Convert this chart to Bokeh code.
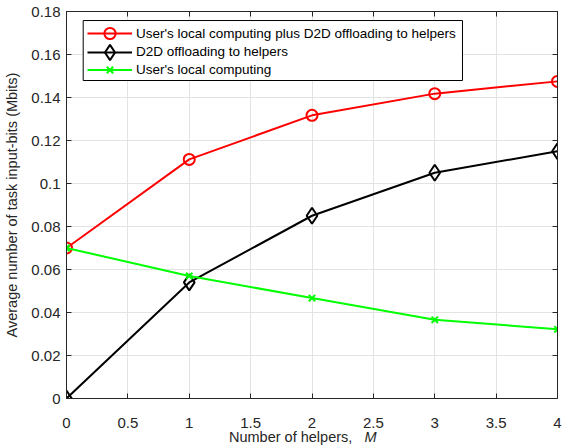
from bokeh.plotting import figure
from bokeh.layouts import column
from bokeh.models import (LinearAxis, FixedTicker, Legend, LegendItem, Range1d,
                          BoxAnnotation, Div)
from bokeh.embed import file_html
from bokeh.resources import INLINE

# Number of helpers M
helpers = [0, 1, 2, 3, 4]

# Average number of task input-bits (Mbits)
local_plus_d2d = [0.070, 0.1112, 0.1317, 0.1418, 0.1475]
d2d_only = [0.0, 0.054, 0.085, 0.105, 0.115]
local_only = [0.070, 0.057, 0.0467, 0.0366, 0.0322]

series_names = [
    "User's local computing plus D2D offloading to helpers",
    "D2D offloading to helpers",
    "User's local computing",
]

x_ticks = [0, 0.5, 1, 1.5, 2, 2.5, 3, 3.5, 4]
x_tick_labels = ["0", "0.5", "1", "1.5", "2", "2.5", "3", "3.5", "4"]
y_ticks = [0, 0.02, 0.04, 0.06, 0.08, 0.1, 0.12, 0.14, 0.16, 0.18]
y_tick_labels = ["0", "0.02", "0.04", "0.06", "0.08", "0.1", "0.12", "0.14", "0.16", "0.18"]

FONT = "Liberation Sans"
TEXT = "#262626"
RED, BLACK, GREEN = "#ff0000", "#000000", "#00ff00"

p = figure(
    frame_width=491, frame_height=387,
    min_border_left=66, min_border_right=5, min_border_top=11, min_border_bottom=36,
    x_range=Range1d(0, 4), y_range=Range1d(0, 0.18),
    output_backend="svg", toolbar_location=None,
)
p.outline_line_color = None
p.background_fill_color = "white"
p.border_fill_color = "white"


def style_axis(ax, ticks, labels, show_labels):
    ax.ticker = FixedTicker(ticks=ticks)
    if show_labels:
        ax.major_label_overrides = {t: l for t, l in zip(ticks, labels)}
        ax.major_label_text_font_size = "15px"
        ax.major_label_text_color = TEXT
    else:
        # box edges carry tick marks only
        ax.major_label_text_color = None
        ax.major_label_text_alpha = 0
    ax.major_tick_in = 5
    ax.major_tick_out = 0
    ax.minor_tick_line_color = None
    ax.axis_line_color = TEXT
    ax.axis_line_width = 1
    ax.major_tick_line_color = TEXT
    ax.major_label_text_font = FONT
    ax.major_label_standoff = 6


style_axis(p.xaxis[0], x_ticks, x_tick_labels, True)
style_axis(p.yaxis[0], y_ticks, y_tick_labels, True)
p.xaxis[0].major_label_standoff = 19

p.yaxis[0].axis_label = "Average number of task input-bits (Mbits)"
p.yaxis[0].axis_label_text_font = FONT
p.yaxis[0].axis_label_text_font_size = "14.5px"
p.yaxis[0].axis_label_text_font_style = "normal"
p.yaxis[0].axis_label_text_color = TEXT
p.yaxis[0].axis_label_standoff = 8

top_axis = LinearAxis(major_label_standoff=0)
right_axis = LinearAxis(major_label_standoff=0)
style_axis(top_axis, x_ticks, x_tick_labels, False)
style_axis(right_axis, y_ticks, y_tick_labels, False)
p.add_layout(top_axis, "above")
p.add_layout(right_axis, "right")

for g in (p.xgrid[0], p.ygrid[0]):
    g.grid_line_color = "#e3e3e3"
    g.grid_line_width = 1
p.xgrid[0].ticker = FixedTicker(ticks=x_ticks)
p.ygrid[0].ticker = FixedTicker(ticks=y_ticks)

# Series: line plus open markers
r1l = p.line(helpers, local_plus_d2d, line_color=RED, line_width=2)
r1m = p.scatter(helpers, local_plus_d2d, marker="circle", size=11,
                fill_color=None, line_color=RED, line_width=2)
r2l = p.line(helpers, d2d_only, line_color=BLACK, line_width=2)
r2m = p.scatter(helpers, d2d_only, marker="diamond", size=16,
                fill_color=None, line_color=BLACK, line_width=2)
r3l = p.line(helpers, local_only, line_color=GREEN, line_width=2)
r3m = p.scatter(helpers, local_only, marker="x", size=9,
                line_color=GREEN, line_width=2)

# Legend frame (white box with black border)
p.add_layout(BoxAnnotation(left=0.136, right=3.226, bottom=0.1479, top=0.1758,
                           fill_color="white", fill_alpha=1,
                           line_color="black", line_width=1, line_alpha=1))

# One legend row per series so each keeps its own marker size
rows = [
    (series_names[0], [r1l, r1m], 28, 33),
    (series_names[1], [r2l, r2m], 38, 51.5),
    (series_names[2], [r3l, r3m], 23, 69.5),
]
for name, rends, gh, cy in rows:
    lg = Legend(
        items=[LegendItem(label=name, renderers=rends)],
        location=(21, 398 - 11 - (cy - 11) - gh / 2),
        label_text_font=FONT,
        label_text_font_size="13.5px",
        label_text_color="black",
        label_height=gh,
        glyph_height=gh,
        glyph_width=45,
        label_standoff=4,
        padding=0,
        margin=0,
        spacing=0,
        border_line_color=None,
        background_fill_alpha=0,
    )
    p.add_layout(lg)

xlabel = Div(
    text='Number of helpers,&nbsp;&nbsp;&nbsp;<i>M</i>',
    width=562, height=12, margin=0,
    styles={"padding-left": "229px", "font-family": FONT, "font-size": "14.5px",
            "line-height": "12px", "color": TEXT, "white-space": "nowrap",
            "position": "relative", "top": "-3px"},
)

layout = column(p, xlabel, spacing=0)
open("out.html", "w").write(file_html(layout, INLINE))
